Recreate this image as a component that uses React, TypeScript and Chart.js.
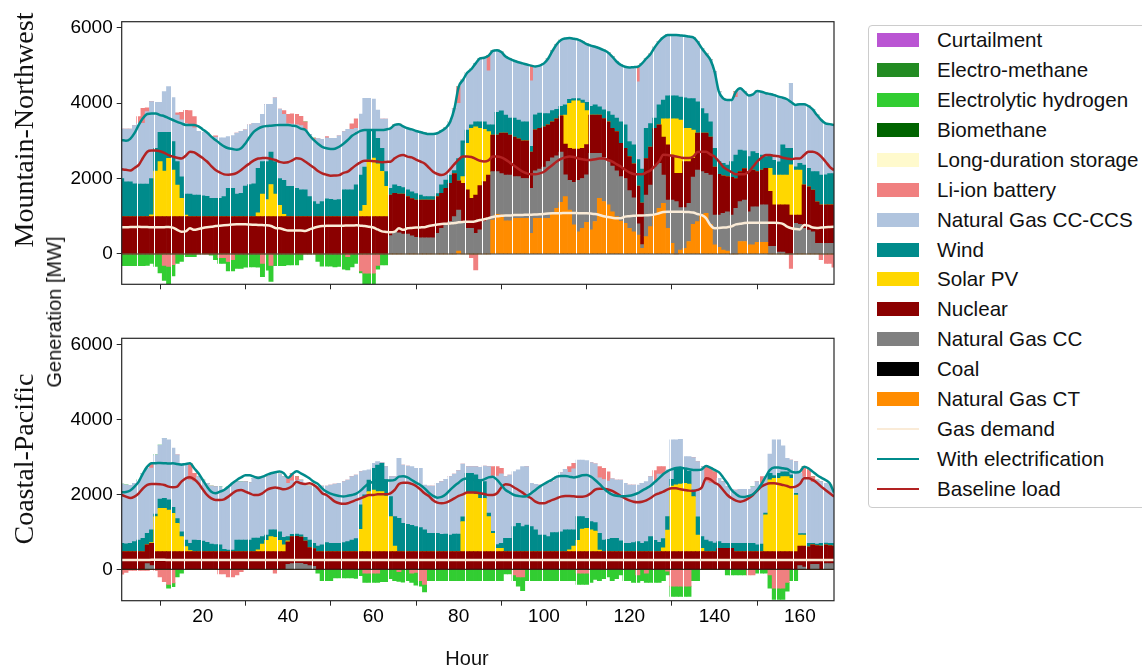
import React, { useEffect, useRef } from "react";
import { Chart, registerables } from "chart.js";
Chart.register(...registerables);

const HOURS: number[] = Array.from({ length: 168 }, (_, i) => i + 1);
const X_TICKS = [20, 40, 60, 80, 100, 120, 140, 160];
const Y_TICKS = [0, 2000, 4000, 6000];

// ---------------- Mountain-Northwest ----------------
const TOP_CT = [
  0,0,0,0,0,0,0,0,0,0,0,0,
  0,0,0,0,0,0,0,0,0,0,0,0,
  0,0,0,0,0,0,0,0,0,0,0,0,
  0,0,0,0,0,0,0,0,0,0,0,0,
  0,0,0,0,0,0,0,0,0,0,0,0,
  0,0,0,0,0,0,0,0,0,0,0,0,
  0,0,0,0,0,0,0,80,0,0,0,0,
  0,0,0,900,1050,1030,880,880,945,945,945,945,
  547,945,945,945,945,1100,1210,1370,1520,1165,770,590,
  680,840,640,860,1475,1390,1300,1120,990,870,810,680,
  590,500,150,460,724,1030,1210,1340,680,280,0,106,
  150,330,786,856,1050,1077,786,240,177,106,80,0,
  0,330,330,240,240,310,310,310,0,0,0,0,
  0,0,0,0,0,0,0,0,0,0,0,0,
];
const TOP_CC = [
  0,0,0,0,0,0,0,0,0,0,0,0,
  0,0,0,0,0,0,0,0,0,0,0,0,
  0,0,0,0,0,0,0,0,0,0,0,0,
  0,0,0,0,0,0,0,0,0,0,0,0,
  0,0,0,0,0,0,0,0,0,0,0,0,
  0,0,0,486,590,560,530,530,480,440,430,430,
  430,430,550,680,770,860,990,1085,860,680,680,550,
  640,860,945,1280,1130,1100,1210,1210,1105,1105,1055,1055,
  1193,1255,1305,1355,1505,1450,1390,1330,580,785,1130,1360,
  1320,1260,2030,1810,1195,1170,1150,1210,1210,1180,1190,1000,
  900,300,100,1100,1100,1284,1190,750,750,1150,1386,1121,
  1077,1010,1250,1369,1130,1060,1304,793,856,971,1040,1033,
  1210,1056,1100,880,1010,940,990,990,200,200,50,50,
  0,0,812,786,680,636,590,283,283,283,283,283,
];
const TOP_NUC = [
  990,990,990,990,990,990,990,990,990,990,990,990,
  990,990,990,990,990,990,990,990,990,990,990,990,
  990,990,990,990,990,990,990,990,990,990,990,990,
  990,990,990,990,990,990,990,990,990,990,990,990,
  990,990,990,990,990,990,990,990,990,990,990,990,
  990,990,990,1074,1020,1030,1060,990,990,990,1000,1000,
  1000,1000,970,930,970,1010,1140,775,1010,1020,795,1010,
  1170,1056,1145,970,970,1070,1110,1060,1050,1000,1000,1000,
  960,1090,1080,1070,970,950,980,960,810,850,880,830,
  800,800,1010,1010,1010,1030,1050,1000,1040,880,800,900,
  900,1000,1100,970,1010,1016,1020,1010,1460,1190,751,910,
  1223,1110,500,975,1020,1063,1010,1267,1077,993,930,997,
  790,794,830,1060,970,930,920,970,1460,1100,1250,1250,
  1300,1030,218,244,1150,1144,1100,1097,1017,1017,1017,1017,
];
const TOP_SOL = [
  0,0,0,0,0,0,0,50,1209,1456,1209,1544,
  1235,838,485,40,0,0,0,0,0,0,0,0,
  0,0,0,0,0,0,0,0,100,600,450,850,
  600,300,60,0,0,0,0,0,0,0,0,0,
  0,0,0,0,0,0,0,0,150,300,1500,1550,
  1400,1200,800,0,0,0,0,0,0,0,0,0,
  0,0,0,0,0,0,0,0,180,1230,1855,1810,
  1520,1384,1150,0,0,0,0,0,0,0,0,0,
  0,0,0,0,0,0,0,0,770,1190,1280,1280,
  1200,900,0,0,0,0,0,0,0,0,0,0,
  0,0,0,0,0,0,0,480,690,960,1443,1413,
  880,880,750,0,0,0,0,0,0,0,0,0,
  0,0,0,0,0,0,0,0,610,790,790,790,
  790,1330,1195,1195,0,0,0,0,0,0,0,0,
];
const TOP_WIND = [
  1010,925,925,870,860,860,860,960,600,777,1024,690,
  750,620,570,557,600,570,570,550,540,485,485,485,
  530,750,750,600,620,810,850,870,1180,860,1010,860,
  860,710,900,800,800,750,710,710,530,400,335,400,
  470,460,440,450,710,710,710,840,950,1010,795,745,
  674,610,390,180,220,200,170,180,180,170,130,90,
  90,90,80,220,220,220,80,590,950,355,90,130,
  170,200,180,270,600,590,480,450,500,500,500,500,
  150,400,400,350,300,300,250,250,270,110,60,60,
  80,220,230,270,220,230,270,350,360,570,620,400,
  500,700,900,800,620,270,530,500,610,610,610,610,
  810,790,830,830,650,520,400,500,336,330,307,416,
  620,576,470,400,490,490,400,310,350,390,350,800,
  710,440,85,175,527,490,490,800,790,800,830,830,
];
const TOP_CCS = [
  1311,1396,1396,1540,1610,1610,1920,2038,1218,798,1080,1210,
  1170,1230,1510,1870,1810,1780,1690,1680,1670,1625,1625,1605,
  1560,1370,1400,1610,1640,1490,1580,1600,1190,1250,1515,1265,
  1690,1840,1750,1660,1650,1680,1700,1600,1650,1630,1735,1650,
  1620,1614,1634,1690,1540,1600,1600,1500,1619,1824,839,821,
  751,776,1396,1590,1590,1650,1620,1630,1650,1660,1670,1680,
  1660,1660,1600,1430,1380,1410,1640,1460,1610,1515,1480,1550,
  1680,1700,1430,1960,1650,1560,1550,1570,1520,1530,1550,1520,
  1740,1280,1260,1330,1460,1580,1725,1760,1760,1620,1580,1560,
  1545,1540,1610,1540,1550,1580,1570,1550,1500,1510,1540,1960,
  2060,2060,2800,1850,1840,1880,1680,1660,1610,1610,1610,1630,
  1640,1640,1620,1595,1600,1580,1650,2030,1854,1724,1723,1634,
  1530,1634,1570,1620,1520,1648,1680,1680,1620,1730,1730,1250,
  1300,1720,1640,1570,1613,1650,1650,1500,1460,1360,1310,1290,
];
const TOP_LI = [
  0,0,0,0,180,400,100,0,0,0,-300,-330,
  -280,60,200,350,400,300,0,0,0,0,30,-100,
  -100,-200,-150,0,0,0,0,0,0,-250,0,-300,
  0,0,100,250,270,280,250,200,0,50,0,0,
  30,0,0,0,0,-70,150,250,-450,-510,-510,-510,
  -300,0,0,0,0,0,0,0,0,0,0,0,
  0,0,0,0,0,0,0,440,0,0,-100,-420,
  0,0,400,0,0,0,0,0,0,0,0,0,
  400,0,0,0,0,0,0,0,0,0,0,0,
  0,0,0,0,0,0,0,0,0,0,0,0,
  0,400,0,0,0,0,0,0,0,0,0,0,
  0,0,0,0,0,0,0,0,0,0,0,0,
  150,0,0,0,0,0,0,0,0,0,0,0,
  0,-380,0,0,0,0,0,0,-150,-250,-250,-350,
];
const TOP_H2 = [
  -310,-310,-310,-310,-310,-310,-300,-250,-330,-500,-400,-470,
  -300,-250,-200,-70,-70,-70,0,0,0,-30,-150,-150,
  -150,-250,-300,-380,-380,-350,-340,-340,-350,-350,-430,-430,
  -310,-310,-310,-290,-290,-290,-160,0,0,0,-200,-320,
  -320,-320,-340,-330,-400,-350,-340,-250,-50,-330,-330,-330,
  -100,-290,-290,0,0,0,0,0,0,0,0,0,
  0,0,0,0,0,0,0,0,0,0,0,0,
  0,0,0,0,0,0,0,0,0,0,0,0,
  0,0,0,0,0,0,0,0,0,0,0,0,
  0,0,0,0,0,0,0,0,0,0,0,0,
  0,0,0,0,0,0,0,0,0,0,0,0,
  0,0,0,0,0,0,0,0,0,0,0,0,
  0,0,0,0,0,0,0,0,0,0,0,0,
  0,0,0,0,0,0,0,0,0,0,0,0,
];
const TOP_EL = [
  3020,3000,3050,3200,3420,3600,3710,3720,3720,3680,3650,3600,
  3550,3500,3460,3420,3420,3420,3380,3300,3220,3110,3020,2930,
  2850,2800,2780,2760,2800,2930,3100,3240,3320,3370,3390,3400,
  3410,3420,3420,3420,3400,3380,3320,3290,3150,3020,2920,2840,
  2800,2780,2790,2840,2920,3020,3130,3200,3260,3285,3285,3285,
  3285,3285,3300,3330,3420,3440,3380,3330,3300,3260,3230,3200,
  3180,3180,3200,3260,3340,3500,3850,4430,4610,4800,4900,5050,
  5180,5200,5250,5380,5400,5350,5230,5170,5120,5080,5050,5020,
  4990,4970,4990,5050,5180,5380,5555,5670,5710,5720,5700,5680,
  5625,5560,5520,5490,5450,5400,5340,5230,5100,5010,4960,4940,
  4950,4960,5050,5180,5300,5480,5630,5740,5800,5800,5800,5790,
  5780,5760,5740,5625,5450,5300,5150,4830,4300,4124,4080,4080,
  4300,4390,4300,4200,4230,4318,4300,4260,4240,4210,4170,4140,
  4100,4018,3950,3970,3970,3920,3830,3680,3550,3460,3440,3420,
];
const TOP_BL = [
  2243,2230,2210,2280,2360,2550,2710,2740,2740,2720,2680,2620,
  2580,2550,2530,2600,2710,2690,2620,2540,2450,2330,2225,2160,
  2110,2100,2110,2150,2225,2320,2400,2480,2530,2540,2545,2520,
  2490,2440,2420,2430,2480,2534,2520,2450,2370,2290,2200,2137,
  2100,2075,2080,2090,2150,2180,2270,2360,2430,2470,2470,2460,
  2450,2430,2440,2446,2534,2600,2620,2580,2560,2500,2450,2400,
  2290,2180,2120,2090,2130,2250,2380,2500,2580,2580,2570,2520,
  2470,2450,2480,2580,2580,2560,2500,2420,2340,2260,2180,2137,
  2110,2110,2137,2180,2270,2360,2450,2520,2560,2580,2570,2530,
  2510,2490,2490,2510,2530,2530,2490,2450,2380,2320,2230,2160,
  2120,2110,2110,2160,2220,2330,2450,2630,2620,2600,2580,2560,
  2540,2540,2580,2700,2710,2710,2640,2580,2450,2310,2230,2166,
  2110,2110,2110,2180,2310,2450,2550,2620,2620,2600,2590,2550,
  2530,2510,2530,2530,2620,2710,2710,2670,2580,2450,2310,2220,
];
const TOP_GAS = [
  706,710,712,715,720,715,712,710,706,706,710,715,
  700,640,590,600,680,640,660,690,710,720,740,750,
  760,770,780,785,786,786,780,775,770,765,760,740,
  690,680,650,620,620,620,620,610,650,690,720,740,
  745,750,750,750,750,755,755,760,750,740,720,700,
  650,600,585,574,590,680,640,680,690,700,705,710,
  740,760,780,795,800,810,820,840,850,856,856,870,
  900,920,950,980,1000,1010,1020,1020,1030,1033,1033,1040,
  1040,1045,1050,1060,1070,1077,1080,1082,1085,1085,1085,1082,
  1080,1077,1070,1060,1033,1000,980,960,945,945,990,1000,
  1010,1020,1020,1025,1030,1050,1080,1110,1120,1120,1120,1120,
  1115,1110,1100,1060,1030,950,770,680,690,700,710,730,
  786,800,820,830,830,830,830,825,825,825,820,800,
  724,680,660,650,770,750,700,690,700,710,715,720,
];

// ---------------- Coastal-Pacific ----------------
const BOT_CT = [
  0,0,0,0,0,0,0,0,0,0,0,0, 0,0,0,0,0,0,0,0,0,0,0,0,
  0,0,0,0,0,0,0,0,0,0,0,0, 0,0,0,0,0,0,0,0,0,0,0,0,
  0,0,0,0,0,0,0,0,0,0,0,0, 0,0,0,0,0,0,0,0,0,0,0,0,
  0,0,0,0,0,0,0,0,0,0,0,0, 0,0,0,0,0,0,0,0,0,0,0,0,
  0,0,0,0,0,0,0,0,0,0,0,0, 0,0,0,0,0,0,0,0,0,0,0,0,
  0,0,0,0,0,0,0,0,0,0,0,0, 0,0,0,0,0,0,0,0,0,0,0,0,
  0,0,0,0,0,0,0,0,0,0,0,0, 0,0,0,0,0,0,0,0,0,0,0,0,
];
const BOT_CC = [
  0,0,0,0,0,0,150,100,0,0,0,0,
  0,0,0,0,0,0,0,0,0,0,0,0,
  0,0,0,0,0,0,0,0,0,0,0,0,
  0,0,0,130,150,160,160,130,100,80,0,0,
  0,0,0,0,0,0,0,0,0,0,0,0,
  0,0,0,0,0,0,0,0,0,0,0,0,
  0,0,0,0,0,0,0,0,0,0,0,0,
  0,0,0,0,0,0,0,0,0,0,0,0,
  0,0,0,0,0,0,0,0,0,0,0,0,
  0,0,0,0,0,0,0,0,0,0,0,0,
  0,0,0,0,0,0,0,0,0,0,0,0,
  0,0,0,0,0,0,0,0,0,0,0,0,
  0,0,0,0,0,0,0,0,0,0,0,0,
  0,0,0,100,60,0,130,130,0,150,150,150,
];
const BOT_NUC = [
  470,470,470,470,470,470,500,590,470,470,470,470,
  470,470,470,470,470,470,470,470,470,470,470,470,
  470,470,470,470,470,470,470,470,470,470,470,470,
  470,470,470,600,720,720,700,620,480,470,470,470,
  470,470,470,470,470,470,470,470,470,470,470,470,
  470,470,470,470,470,470,470,470,470,470,470,470,
  470,470,470,470,470,470,470,470,470,470,470,470,
  470,470,470,470,470,470,470,470,470,470,470,470,
  470,470,470,470,470,470,470,470,470,470,470,470,
  470,470,470,470,470,470,470,470,470,470,470,470,
  470,470,470,470,470,470,470,470,470,470,470,470,
  470,470,470,470,470,470,470,470,560,560,560,560,
  470,470,470,470,470,470,470,470,470,470,470,470,
  470,470,470,520,560,600,520,500,620,500,480,470,
];
const BOT_SOL = [
  0,0,0,0,0,0,0,20,935,1157,1157,1110,
  1024,757,401,135,30,0,0,0,0,0,0,0,
  0,0,0,0,0,0,0,0,50,200,300,400,
  380,300,180,30,0,0,0,0,0,0,0,0,
  0,0,0,0,0,0,0,0,597,1468,1600,1646,
  1600,1600,1486,935,150,0,0,0,0,0,0,0,
  0,0,0,0,0,0,0,0,800,1557,1557,1530,
  1420,1420,935,490,90,90,0,0,0,0,0,0,
  0,0,0,0,0,0,0,0,0,50,150,300,
  600,620,580,550,40,0,0,0,0,0,0,0,
  0,0,0,0,0,0,0,100,579,1752,1780,1800,
  1823,1800,1468,446,90,0,0,0,0,0,0,0,
  0,0,0,0,0,0,0,980,1913,1957,1957,2001,
  2001,1957,1512,296,296,0,0,0,0,0,0,0,
];
const BOT_WIND = [
  223,210,223,268,310,357,310,340,65,243,263,270,
  156,123,129,175,190,310,300,280,250,200,190,180,
  60,40,40,310,310,310,310,360,310,200,145,180,
  200,230,200,110,60,60,60,100,200,143,150,180,
  240,220,220,220,240,270,310,350,650,50,312,578,
  712,756,427,533,783,890,757,730,700,670,640,580,
  490,490,490,460,470,446,470,470,130,533,533,520,
  493,450,95,50,100,130,357,357,668,757,668,712,
  668,580,440,440,400,510,510,530,580,530,430,635,
  335,270,220,225,450,310,330,357,357,290,223,223,
  240,270,223,270,400,300,250,250,356,178,450,430,
  407,340,182,484,310,310,270,230,180,130,130,130,
  220,220,220,220,220,180,200,50,177,73,133,129,
  129,93,45,34,34,93,40,40,73,50,60,70,
];
const BOT_CCS = [
  1583,1570,1547,1555,1600,1733,1730,1647,1580,1446,1604,1600,
  1580,1700,1827,2047,1692,1558,1700,1632,1573,1552,1544,1554,
  1603,1680,1770,1558,1558,1558,1531,1597,1641,1601,1556,1510,
  1528,1542,1621,1424,1430,1431,1462,1443,1442,1511,1584,1572,
  1512,1559,1586,1603,1628,1642,1691,1696,888,643,268,133,
  89,20,355,533,1068,1600,1555,1556,1568,1554,1584,1199,
  1262,1262,1333,1408,1460,1555,1602,1691,1409,178,178,218,
  337,416,1238,1478,1828,1854,1644,1689,1467,1423,1600,1556,
  1155,1217,1339,1339,1423,1358,1491,1578,1617,1538,1627,1511,
  1511,1540,1575,1565,1478,1614,1550,1583,1555,1622,1600,1556,
  1539,1509,1600,1598,1601,1580,1818,1718,1245,1050,750,767,
  305,395,860,1471,1868,1558,1560,1600,1687,1648,1514,1443,
  1426,1443,1443,1443,1514,1688,1621,971,516,950,890,690,
  360,396,844,1610,1508,1707,1631,1712,1645,1593,1559,1426,
];
const BOT_LI = [
  -130,-80,-30,-30,-30,-30,-30,130,-30,-200,-330,-400,
  -360,0,0,0,445,222,0,0,0,0,0,-120,
  -120,-200,-200,-150,-60,0,0,0,0,0,0,0,
  -100,0,0,133,200,100,0,0,0,0,0,0,
  0,0,0,0,0,0,0,0,0,-100,-100,-100,
  -100,0,0,0,0,-60,0,0,-100,-80,-300,-400,
  0,0,0,0,0,0,0,0,0,0,0,0,
  0,0,0,250,250,150,0,0,-150,-200,-200,0,
  0,0,0,0,0,0,0,0,0,150,150,-100,
  -100,-100,0,0,300,300,250,0,0,0,0,0,
  0,-150,0,-100,0,280,200,200,-50,-450,-450,-450,
  -450,-450,0,0,0,400,400,300,0,0,0,0,
  0,0,0,-150,-150,0,180,0,-150,-500,-500,-500,
  -350,0,0,0,280,250,150,0,0,0,0,0,
];
const BOT_H2 = [
  0,0,0,0,0,0,0,0,0,0,0,-100,
  -100,-200,-100,0,0,0,0,0,0,0,0,0,
  0,0,0,0,0,0,0,0,0,0,0,0,
  0,0,0,0,0,0,0,0,0,0,-100,-300,
  -300,-300,-230,-230,-230,-230,-230,-240,-170,-250,-250,-250,
  -250,-330,-330,-250,-300,-260,-340,-300,-250,-340,-150,-200,
  -300,-300,-300,-300,-300,-300,-300,-300,-300,-300,-300,-300,
  -300,-300,-300,-300,-300,-300,-120,-120,-150,-250,-370,-300,
  -300,-300,-300,-300,-300,-300,-300,-300,-300,-300,-300,-300,
  -300,-300,-350,-270,-300,-250,-200,-300,-250,-150,-300,-300,
  -350,-200,-300,-250,-350,-350,-350,-300,-100,-270,-270,-270,
  -270,-270,-300,-300,0,0,0,0,0,0,-150,-150,
  -150,-150,-150,0,0,-100,-100,-100,-350,-300,-300,-300,
  -230,-300,-300,0,0,0,0,0,0,0,0,0,
];
const BOT_EL = [
  2053,2060,2100,2204,2338,2560,2738,2827,2830,2836,2830,2820,
  2827,2810,2790,2810,2827,2694,2560,2382,2205,2071,2030,2071,
  2115,2200,2300,2383,2450,2507,2507,2471,2436,2471,2516,2560,
  2590,2605,2560,2440,2540,2613,2560,2500,2427,2338,2276,2160,
  2071,2020,1982,1956,1940,1960,1982,2020,2098,2205,2290,2338,
  2383,2383,2365,2365,2383,2471,2480,2450,2383,2310,2250,2160,
  2045,1960,1911,1930,2000,2116,2222,2310,2400,2420,2400,2380,
  2370,2400,2450,2471,2383,2250,2116,2045,1982,1956,1940,1956,
  2027,2116,2205,2276,2338,2400,2471,2490,2490,2471,2450,2471,
  2507,2516,2471,2383,2276,2160,2060,1990,1960,1950,1950,1960,
  1990,2030,2100,2160,2230,2330,2430,2540,2620,2667,2700,2712,
  2690,2667,2650,2650,2667,2756,2712,2650,2590,2450,2293,2116,
  2010,1938,1930,1956,2000,2116,2276,2471,2650,2712,2712,2694,
  2680,2605,2580,2605,2738,2694,2605,2516,2445,2383,2293,2045,
];
const BOT_BL = [
  1982,1940,1900,1940,2027,2160,2249,2276,2276,2267,2249,2205,
  2187,2205,2338,2427,2453,2400,2293,2133,1982,1893,1850,1850,
  1867,1938,2027,2098,2116,2071,2027,1982,1982,2027,2116,2160,
  2182,2160,2133,2160,2222,2338,2293,2276,2293,2250,2160,2027,
  1982,1893,1804,1760,1745,1760,1804,1850,1893,1938,1982,1982,
  2000,2000,2000,2027,2116,2276,2310,2310,2276,2222,2133,2027,
  1956,1840,1778,1760,1778,1830,1893,1956,2000,2045,2045,2045,
  2027,2010,1982,1982,2027,2182,2270,2250,2182,2116,2045,1956,
  1893,1804,1760,1760,1804,1850,1893,1938,1956,1956,1946,1938,
  1938,1956,2027,2127,2150,2150,2127,2090,2027,1956,1893,1840,
  1804,1790,1804,1840,1900,1982,2027,2071,2133,2160,2160,2133,
  2116,2098,2090,2116,2182,2427,2400,2310,2250,2116,1982,1893,
  1830,1804,1830,1893,1982,2098,2205,2267,2293,2293,2276,2250,
  2222,2187,2205,2276,2427,2427,2383,2310,2205,2116,2027,1938,
];
const BOT_GAS = [
  250,250,250,250,250,250,250,252,252,252,252,250,
  250,250,250,250,250,250,250,250,250,250,250,250,
  250,250,250,250,250,250,250,250,250,250,250,250,
  250,250,250,250,250,250,250,250,250,250,250,250,
  250,250,250,250,250,250,250,250,250,250,250,250,
  250,250,250,250,250,250,250,250,250,250,250,250,
  250,250,250,250,250,250,250,250,250,250,250,250,
  250,250,250,250,250,250,250,250,250,250,250,250,
  250,250,250,250,250,250,250,250,250,250,250,250,
  250,250,250,250,250,250,250,250,250,250,250,250,
  250,250,250,250,250,250,250,250,250,250,250,250,
  250,250,250,250,250,250,250,250,250,250,250,250,
  250,250,250,250,250,250,250,250,250,250,250,250,
  250,250,250,250,250,250,250,250,250,250,250,250,
];

const C = {
  curt: "#BA55D3",
  emeth: "#228B22",
  h2: "#32CD32",
  biometh: "#006400",
  lds: "#FFFACD",
  li: "#F08080",
  ccs: "#B0C4DE",
  wind: "#008B8B",
  sol: "#FFD700",
  nuc: "#8B0000",
  cc: "#808080",
  coal: "#000000",
  ct: "#FF8C00",
  gas: "#FAEBD7",
  el: "#008B8B",
  bl: "#B22222",
};

const LEGEND: [string, string, string][] = [
  ["Curtailment", C.curt, "box"],
  ["Electro-methane", C.emeth, "box"],
  ["Electrolytic hydrogen", C.h2, "box"],
  ["Biomethane", C.biometh, "box"],
  ["Long-duration storage", C.lds, "box"],
  ["Li-ion battery", C.li, "box"],
  ["Natural Gas CC-CCS", C.ccs, "box"],
  ["Wind", C.wind, "box"],
  ["Solar PV", C.sol, "box"],
  ["Nuclear", C.nuc, "box"],
  ["Natural Gas CC", C.cc, "box"],
  ["Coal", C.coal, "box"],
  ["Natural Gas CT", C.ct, "box"],
  ["Gas demand", C.gas, "line"],
  ["With electrification", C.el, "line"],
  ["Baseline load", C.bl, "line"],
];

const FONT = "'Liberation Sans', Arial, Helvetica, sans-serif";

function pts(vals: number[]) {
  return vals.map((v, i) => ({ x: HOURS[i], y: v }));
}

const decor = {
  id: "decor",
  afterDatasetDraw(chart: any, args: any) {
    if (args.index !== 0) return;
    const { ctx, chartArea: a, scales } = chart;
    const x = scales.x;
    const y = scales.y;
    ctx.save();
    ctx.beginPath();
    ctx.rect(a.left, a.top, a.right - a.left, a.bottom - a.top);
    ctx.clip();
    ctx.strokeStyle = "#ffffff";
    ctx.lineWidth = 1;
    ctx.beginPath();
    let prev = Math.floor((1.5 - 4.5) / 3.65);
    for (let k = 2; k <= 167; k++) {
      const b = k + 0.5;
      const c = Math.floor((b - 4.5) / 3.65 + 1e-9);
      if (c > prev) {
        const px = Math.round(x.getPixelForValue(b)) + 0.5;
        ctx.moveTo(px, a.top);
        ctx.lineTo(px, a.bottom);
      }
      prev = c;
    }
    ctx.stroke();
    const y0 = y.getPixelForValue(0);
    ctx.strokeStyle = "rgba(20,20,20,0.85)";
    ctx.lineWidth = 1.2;
    ctx.beginPath();
    ctx.moveTo(a.left, y0);
    ctx.lineTo(a.right, y0);
    ctx.stroke();
    ctx.restore();
  },
  afterDraw(chart: any) {
    const { ctx, chartArea: a } = chart;
    ctx.save();
    ctx.strokeStyle = "#262626";
    ctx.lineWidth = 1.2;
    ctx.strokeRect(a.left, a.top, a.right - a.left, a.bottom - a.top);
    ctx.restore();
  },
};

type PanelData = {
  ct: number[]; cc: number[]; nuc: number[]; sol: number[]; wind: number[];
  ccs: number[]; li: number[]; h2: number[]; el: number[]; bl: number[]; gas: number[];
};

function makeConfig(p: PanelData, o: { ymin: number; ymax: number; padTop: number; padBottom: number; xH: number; labels: boolean }) {
  const bar = (label: string, vals: number[], color: string) => ({
    type: "bar",
    label,
    data: pts(vals),
    backgroundColor: color,
    borderWidth: 0,
    barPercentage: 1,
    categoryPercentage: 1,
    stack: "gen",
    order: 1,
    clip: 0,
  });
  const line = (label: string, vals: number[], color: string, w: number) => ({
    type: "line",
    label,
    data: pts(vals),
    borderColor: color,
    backgroundColor: color,
    borderWidth: w,
    pointRadius: 0,
    fill: false,
    cubicInterpolationMode: "monotone",
    stack: "line-" + label,
    order: 0,
    clip: 0,
  });
  return {
    type: "bar",
    data: {
      datasets: [
        bar("Natural Gas CT", p.ct, C.ct),
        bar("Natural Gas CC", p.cc, C.cc),
        bar("Nuclear", p.nuc, C.nuc),
        bar("Solar PV", p.sol, C.sol),
        bar("Wind", p.wind, C.wind),
        bar("Natural Gas CC-CCS", p.ccs, C.ccs),
        bar("Li-ion battery", p.li, C.li),
        bar("Electrolytic hydrogen", p.h2, C.h2),
        line("With electrification", p.el, C.el, 2.5),
        line("Baseline load", p.bl, C.bl, 2.5),
        line("Gas demand", p.gas, C.gas, 2.5),
      ],
    },
    options: {
      animation: false,
      responsive: false,
      maintainAspectRatio: false,
      devicePixelRatio: 1,
      events: [],
      layout: { padding: { left: 0, right: 26, top: o.padTop, bottom: o.padBottom } },
      plugins: { legend: { display: false }, tooltip: { enabled: false } },
      scales: {
        x: {
          type: "linear",
          min: 1,
          max: 168,
          bounds: "data",
          stacked: true,
          offset: false,
          grid: { display: true, drawOnChartArea: false, drawTicks: true, tickLength: 5, color: "#262626", lineWidth: 1 },
          border: { display: false },
          ticks: {
            display: true,
            autoSkip: false,
            maxRotation: 0,
            padding: 0,
            color: "#000",
            font: { family: FONT, size: 19 },
            callback: (v: any) => (o.labels ? String(v) : ""),
          },
          afterBuildTicks: (s: any) => {
            s.ticks = X_TICKS.map((v) => ({ value: v }));
          },
          afterFit: (s: any) => {
            s.height = o.xH;
          },
        },
        y: {
          min: o.ymin,
          max: o.ymax,
          stacked: true,
          bounds: "data",
          grid: { display: true, drawOnChartArea: false, drawTicks: true, tickLength: 5, color: "#262626", lineWidth: 1 },
          border: { display: false },
          ticks: {
            padding: 4,
            color: "#000",
            font: { family: FONT, size: 19 },
            callback: (v: any) => String(v),
          },
          afterBuildTicks: (s: any) => {
            s.ticks = Y_TICKS.map((v) => ({ value: v }));
          },
          afterFit: (s: any) => {
            s.width = 121.7;
          },
        },
      },
    },
    plugins: [decor],
  };
}

export default function App() {
  const topRef = useRef<HTMLCanvasElement>(null);
  const botRef = useRef<HTMLCanvasElement>(null);

  useEffect(() => {
    document.body.style.margin = "0";
    const top = new Chart(
      topRef.current as HTMLCanvasElement,
      makeConfig(
        { ct: TOP_CT, cc: TOP_CC, nuc: TOP_NUC, sol: TOP_SOL, wind: TOP_WIND, ccs: TOP_CCS, li: TOP_LI, h2: TOP_H2, el: TOP_EL, bl: TOP_BL, gas: TOP_GAS },
        { ymin: -803, ymax: 6154, padTop: 21.7, padBottom: 5.7, xH: 10, labels: false }
      ) as any
    );
    const bot = new Chart(
      botRef.current as HTMLCanvasElement,
      makeConfig(
        { ct: BOT_CT, cc: BOT_CC, nuc: BOT_NUC, sol: BOT_SOL, wind: BOT_WIND, ccs: BOT_CCS, li: BOT_LI, h2: BOT_H2, el: BOT_EL, bl: BOT_BL, gas: BOT_GAS },
        { ymin: -837, ymax: 6160, padTop: 18.3, padBottom: 31.3, xH: 40, labels: true }
      ) as any
    );
    return () => {
      top.destroy();
      bot.destroy();
    };
  }, []);

  const rot = (text: string, left: number, topPx: number, family: string, size: number) => (
    <div
      style={{
        position: "absolute",
        left,
        top: topPx,
        transform: "translate(-50%, -50%) rotate(-90deg)",
        whiteSpace: "nowrap",
        fontFamily: family,
        fontSize: size,
        color: "#111",
        lineHeight: 1,
      }}
    >
      {text}
    </div>
  );

  return (
    <div style={{ position: "absolute", left: 0, top: 0, width: 1142, height: 672, overflow: "hidden", background: "#fff" }}>
      <canvas ref={topRef} width={860} height={300} style={{ position: "absolute", left: 0, top: 0, width: 860, height: 300 }} />
      <canvas ref={botRef} width={860} height={352} style={{ position: "absolute", left: 0, top: 320, width: 860, height: 352 }} />
      {rot("Mountain-Northwest", 24, 130, "'Liberation Serif', 'Times New Roman', serif", 28)}
      {rot("Coastal-Pacific", 24, 459, "'Liberation Serif', 'Times New Roman', serif", 28)}
      {rot("Generation [MW]", 54, 312, FONT, 20)}
      <div
        style={{
          position: "absolute",
          left: 467,
          top: 658,
          transform: "translate(-50%, -50%)",
          fontFamily: FONT,
          fontSize: 20,
          color: "#111",
          lineHeight: 1,
        }}
      >
        Hour
      </div>
      <div
        style={{
          position: "absolute",
          left: 868,
          top: 25,
          width: 290,
          height: 483,
          boxSizing: "border-box",
          border: "1px solid #cccccc",
          borderRadius: 4,
          background: "#fff",
        }}
      >
        {LEGEND.map(([label, color, kind], i) => {
          const cy = 15 + i * 29.93;
          return (
            <div key={label}>
              {kind === "box" ? (
                <div style={{ position: "absolute", left: 8, top: cy - 7 - 1, width: 42, height: 14, background: color }} />
              ) : (
                <div style={{ position: "absolute", left: 8, top: cy - 1 - 1, width: 42, height: 2.2, background: color }} />
              )}
              <div
                style={{
                  position: "absolute",
                  left: 68,
                  top: cy - 11 - 1,
                  fontFamily: FONT,
                  fontSize: 20.6,
                  lineHeight: "22px",
                  color: "#111",
                  whiteSpace: "nowrap",
                }}
              >
                {label}
              </div>
            </div>
          );
        })}
      </div>
    </div>
  );
}
